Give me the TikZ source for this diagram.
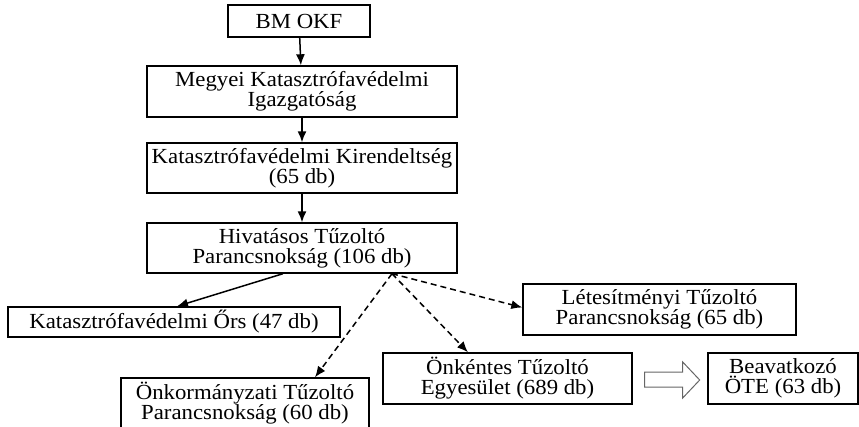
\documentclass[tikz,border=0pt]{standalone}
\usepackage{fontspec}
\setmainfont{Liberation Serif}[FakeStretch=1.06]
\usetikzlibrary{arrows.meta}
\tikzset{
unit/.style={draw, line width=1.4pt, inner sep=0pt, align=center, font=\fontsize{21.5}{20}\selectfont},
arr/.style={-{Latex[length=11pt,width=9pt]}, line width=1.5pt},
dasharr/.style={arr, dash pattern=on 6pt off 4pt}
}
\begin{document}
\begin{tikzpicture}[x=1pt,y=-1pt]
\useasboundingbox (0,0) rectangle (859,427);
\node[unit, minimum width=142pt, minimum height=32pt] (bm) at (299,21) {BM OKF};
\node[unit, minimum width=310pt, minimum height=51pt] (megyei) at (302,91.5) {Megyei Katasztrófavédelmi\\Igazgatóság};
\node[unit, minimum width=310pt, minimum height=50pt] (kir) at (302,168) {Katasztrófavédelmi Kirendeltség\\(65 db)};
\node[unit, minimum width=310pt, minimum height=50pt] (hiv) at (302,248) {Hivatásos Tűzoltó\\Parancsnokság (106 db)};
\node[unit, minimum width=332pt, minimum height=30pt] (ors) at (174,322) {Katasztrófavédelmi Őrs (47 db)};
\node[unit, minimum width=273pt, minimum height=51pt] (letes) at (659.5,309.5) {Létesítményi Tűzoltó\\Parancsnokság (65 db)};
\node[unit, minimum width=249pt, minimum height=51pt] (onk) at (507.5,378.5) {Önkéntes Tűzoltó\\Egyesület (689 db)};
\node[unit, minimum width=150pt, minimum height=51pt] (beav) at (783,378.5) {Beavatkozó\\ÖTE (63 db)};
\node[unit, minimum width=248pt, minimum height=50pt] (onkorm) at (245,403) {Önkormányzati Tűzoltó\\Parancsnokság (60 db)};

\draw[arr] (bm) -- (megyei);
\draw[arr] (megyei) -- (kir);
\draw[arr] (kir) -- (hiv);
\draw[arr] ([xshift=-19pt]hiv.south) -- ([xshift=3pt]ors.north);

\coordinate (hub) at ([xshift=90pt]hiv.south);
\coordinate (t1) at ([xshift=70pt]onkorm.north);
\coordinate (t2) at ([xshift=-39.5pt]onk.north);
\coordinate (t3) at ([yshift=2pt]letes.west);
\foreach \t in {t1,t2,t3}
\draw[dasharr] (hub) -- (\t);

\draw[line width=1pt, black!60] ([xshift=12pt,yshift=6.5pt]onk.east) -- ++(38,0) -- ++(0,-10)
  -- ++(17,18) -- ++(-17,18) -- ++(0,-11) -- ++(-38,0) -- cycle;
\end{tikzpicture}
\end{document}
